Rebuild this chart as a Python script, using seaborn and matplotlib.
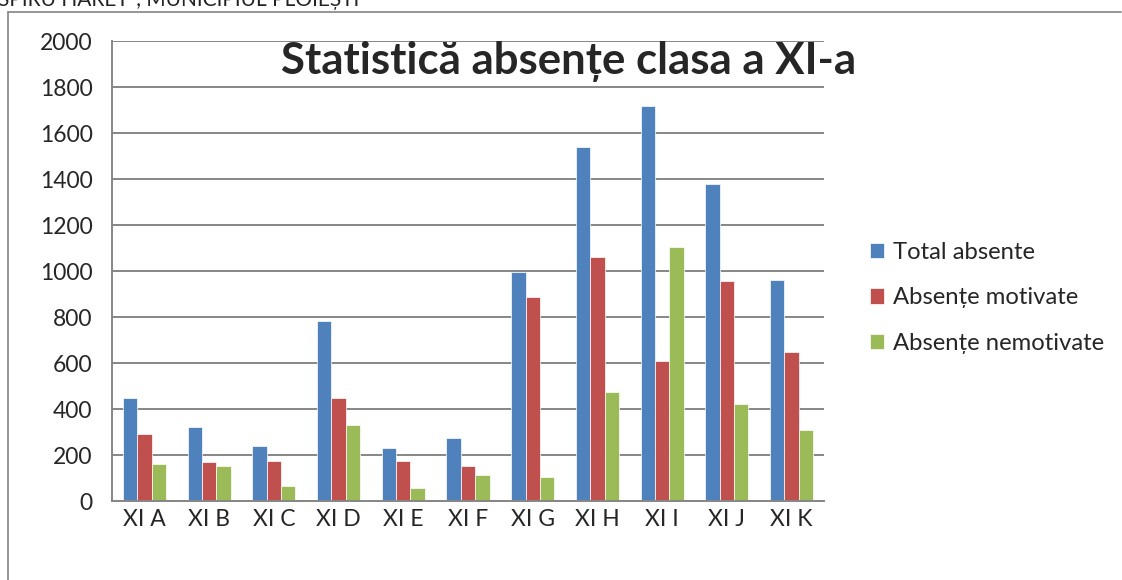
"""
Statistica absente clasa a XI-a: grouped bar chart recreated with seaborn.
"""

import matplotlib
matplotlib.use("Agg")
import matplotlib.pyplot as plt
from matplotlib.lines import Line2D
import numpy as np
import pandas as pd
import seaborn as sns


# Data

classes = ["XI A", "XI B", "XI C", "XI D", "XI E", "XI F",
           "XI G", "XI H", "XI I", "XI J", "XI K"]
series = ["Total absente", "Absențe motivate", "Absențe nemotivate"]

total_absente = [449, 323, 240, 783, 230, 272, 995, 1537, 1719, 1380, 959]
absente_motivate = [290, 171, 174, 449, 174, 152, 887, 1061, 610, 956, 648]
absente_nemotivate = [162, 152, 66, 332, 55, 113, 106, 475, 1106, 420, 309]

y_ticks = list(range(0, 2001, 200))
colors = ["#4F81BD", "#C0504D", "#9BBB59"]


# Long-format table for seaborn

df = pd.DataFrame({
    "clasa": classes * 3,
    "serie": np.repeat(series, len(classes)),
    "valoare": total_absente + absente_motivate + absente_nemotivate,
})

sns.set_style("white")
plt.rcParams["font.family"] = ["Lato", "DejaVu Sans"]

W, H = 1122, 580
fig = plt.figure(figsize=(W / 100, H / 100), dpi=100)
ax = fig.add_axes([112 / W, 1 - 501 / H, (824 - 112) / W, (501 - 41) / H])

sns.barplot(
    data=df, x="clasa", y="valoare", hue="serie", order=classes,
    hue_order=series, palette=colors, saturation=1, width=0.665,
    edgecolor="white", linewidth=0.5, ax=ax,
)

grid_c = "#868686"
ax.set_ylim(0, 2000)
ax.set_xlim(-0.5, len(classes) - 0.5)
ax.set_yticks(y_ticks)
ax.yaxis.grid(True, color=grid_c, linewidth=1.4)
ax.set_axisbelow(True)
ax.set_xlabel("")
ax.set_ylabel("")

for side in ("top", "right"):
    ax.spines[side].set_visible(False)
for side in ("left", "bottom"):
    ax.spines[side].set_color(grid_c)
    ax.spines[side].set_linewidth(1.4)

# category labels at centres, tick marks at the boundaries
ax.set_xticks(np.arange(len(classes)))
ax.set_xticklabels(classes)
ax.set_xticks(np.arange(-0.5, len(classes)), minor=True)
ax.tick_params(axis="x", which="major", length=0, pad=6, labelsize=16.5)
ax.tick_params(axis="x", which="minor", length=5, width=1.2,
               color=grid_c, direction="out")
ax.tick_params(axis="y", length=5, width=1.2, color=grid_c,
               direction="out", pad=9, labelsize=16.5)

# legend on the right
handles, labels = ax.get_legend_handles_labels()
ax.legend(
    handles, labels, loc="center left",
    bbox_to_anchor=(860 / W, 1 - 298 / H), bbox_transform=fig.transFigure,
    frameon=False, fontsize=17.2, handlelength=0.6, handleheight=0.6,
    handletextpad=0.4, labelspacing=1.02, borderaxespad=0,
)

# title overlapping the plot area
fig.text(569 / W, 1 - 62 / H, "Statistică absențe clasa a XI-a",
         ha="center", va="center", fontsize=31.5, fontweight="bold")

# clipped header line from the document page
fig.text(-2 / W, 1 - 6 / H, "SPIRU HARET”, MUNICIPIUL PLOIEȘTI",
         ha="left", va="baseline", fontsize=15, color="#222222")

# chart frame
frame_c = "#8C8C8C"
fig.add_artist(Line2D([8 / W, 8 / W], [0, 1 - 12 / H], color=frame_c, lw=1.3))
fig.add_artist(Line2D([8 / W, 1121 / W], [1 - 12 / H, 1 - 12 / H],
                      color=frame_c, lw=1.3))

fig.savefig("out.png", dpi=100)
plt.close(fig)
